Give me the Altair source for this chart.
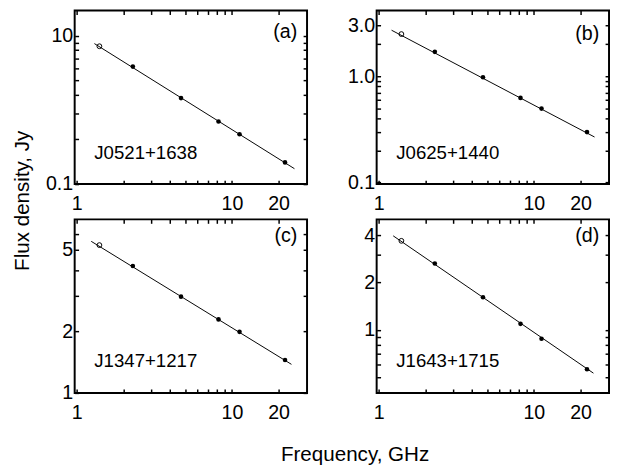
import altair as alt
import pandas as pd

FONT = "Liberation Sans"

# ---- data ----
freq = [1.4, 2.3, 4.7, 8.2, 11.2, 22.0]          # GHz
kind = ["open", "filled", "filled", "filled", "filled", "filled"]

flux_a = [8.5, 6.2, 3.8, 2.64, 2.17, 1.40]
flux_b = [2.50, 1.70, 0.98, 0.625, 0.495, 0.297]
flux_c = [5.29, 4.18, 2.96, 2.29, 1.99, 1.45]
flux_d = [3.68, 2.64, 1.61, 1.09, 0.877, 0.56]

fit_x_a = [1.30, 25.3]
fit_y_a = [8.86, 1.27]
fit_x_b = [1.21, 24.6]
fit_y_b = [2.72, 0.267]
fit_x_c = [1.24, 24.2]
fit_y_c = [5.52, 1.38]
fit_x_d = [1.24, 24.2]
fit_y_d = [3.96, 0.529]

sources = ["J0521+1638", "J0625+1440", "J1347+1217", "J1643+1715"]
tags = ["(a)", "(b)", "(c)", "(d)"]

x_domain = [0.97, 30.5]
x_ticks = [1, 2, 3, 4, 5, 6, 7, 8, 9, 10, 20]
x_tick_labels = {1: "1", 10: "10", 20: "20"}

y_domain_a = [1.0, 14.8]
y_ticks_a = [1, 2, 3, 4, 5, 6, 7, 8, 9, 10]
y_labels_a = {10: "10", 1: "0.1"}

y_domain_b = [0.096, 4.17]
y_ticks_b = [0.1, 0.2, 0.3, 0.4, 0.5, 0.6, 0.7, 0.8, 0.9, 1, 2, 3]
y_labels_b = {3: "3.0", 1: "1.0", 0.1: "0.1"}

y_domain_c = [1.0, 7.07]
y_ticks_c = [1, 2, 3, 4, 5, 6]
y_labels_c = {1: "1", 2: "2", 5: "5"}

y_domain_d = [0.396, 5.04]
y_ticks_d = [0.5, 0.6, 0.7, 0.8, 0.9, 1, 2, 3, 4]
y_labels_d = {1: "1", 2: "2", 4: "4"}

W, H = 237, 177
TICK = 4


def label_expr(labels):
    expr = "''"
    for v, t in labels.items():
        expr = f"abs(datum.value - {v}) < 1e-6 ? '{t}' : ({expr})"
    return expr


def label_axis(orient, values, labels, pad, ext):
    return alt.Axis(orient=orient, values=values, labelExpr=label_expr(labels),
                    domain=False, grid=False, ticks=True, tickSize=TICK,
                    tickWidth=1.5, tickColor="black", offset=-TICK,
                    labelPadding=pad, labelFont=FONT, labelFontSize=20,
                    labelColor="black", labelOverlap=False, labelFlush=False,
                    title=None, minExtent=ext)


def tick_axis(orient, values):
    return alt.Axis(orient=orient, values=values, labels=False, domain=False,
                    grid=False, ticks=True, tickSize=TICK, tickWidth=1.5,
                    tickColor="black", offset=-TICK, title=None, minExtent=0)


def panel(flux, fx, fy, ydom, yticks, ylabels, src, tag, tag_y):
    df = pd.DataFrame({"freq": freq, "flux": flux, "kind": kind})
    ldf = pd.DataFrame({"freq": fx, "flux": fy})
    xs = alt.Scale(type="log", domain=x_domain, nice=False)
    ys = alt.Scale(type="log", domain=ydom, nice=False)
    line = alt.Chart(ldf).mark_line(color="black", strokeWidth=1).encode(
        x=alt.X("freq:Q", scale=xs, axis=label_axis("bottom", x_ticks, x_tick_labels, 10, 31)),
        y=alt.Y("flux:Q", scale=ys, axis=label_axis("left", yticks, ylabels, 2, 36)),
    )
    filled = alt.Chart(df).transform_filter("datum.kind == 'filled'").mark_circle(
        color="black", size=22, opacity=1).encode(
        x=alt.X("freq:Q", scale=xs, axis=tick_axis("top", x_ticks)),
        y=alt.Y("flux:Q", scale=ys, axis=tick_axis("right", yticks)),
    )
    opened = alt.Chart(df).transform_filter("datum.kind == 'open'").mark_point(
        shape="circle", filled=False, color="black", size=24, strokeWidth=1, opacity=1).encode(
        x=alt.X("freq:Q", scale=xs, axis=None),
        y=alt.Y("flux:Q", scale=ys, axis=None),
    )
    frame = alt.Chart(pd.DataFrame({"t": [src]})).mark_rect(
        fill=None, stroke="black", strokeWidth=2).encode(
        x=alt.value(0), x2=alt.value(W), y=alt.value(0), y2=alt.value(H))
    tag_t = alt.Chart(pd.DataFrame({"t": [tag]})).mark_text(
        align="right", baseline="middle", font=FONT, fontSize=20, color="black").encode(
        text="t:N", x=alt.value(W - 10), y=alt.value(tag_y))
    src_t = alt.Chart(pd.DataFrame({"t": [src]})).mark_text(
        align="left", baseline="middle", font=FONT, fontSize=19, color="black").encode(
        text="t:N", x=alt.value(20), y=alt.value(H - 32))
    return alt.layer(line, filled, opened, frame, tag_t, src_t).resolve_axis(
        x="independent", y="independent").properties(width=W, height=H)


pa = panel(flux_a, fit_x_a, fit_y_a, y_domain_a, y_ticks_a, y_labels_a, sources[0], tags[0], 22)
pb = panel(flux_b, fit_x_b, fit_y_b, y_domain_b, y_ticks_b, y_labels_b, sources[1], tags[1], 24)
pc = panel(flux_c, fit_x_c, fit_y_c, y_domain_c, y_ticks_c, y_labels_c, sources[2], tags[2], 17)
pd_ = panel(flux_d, fit_x_d, fit_y_d, y_domain_d, y_ticks_d, y_labels_d, sources[3], tags[3], 17)

grid = alt.concat(pa, pb, pc, pd_, columns=2, spacing={"row": 5, "column": 38}).properties(
    title=alt.TitleParams("Frequency, GHz", orient="bottom", anchor="middle", font=FONT,
                          fontSize=21, fontWeight="normal", color="black", offset=22, dx=29))

chart = alt.hconcat(grid).properties(
    title=alt.TitleParams("Flux density, Jy", orient="left", anchor="middle", font=FONT,
                          fontSize=21, fontWeight="normal", color="black", offset=11, dx=37),
    padding={"left": 3, "top": -3, "right": 0, "bottom": 0},
    background="white",
).configure_view(stroke=None)

chart.save("out.html", embed_options={"renderer": "svg", "actions": False})
